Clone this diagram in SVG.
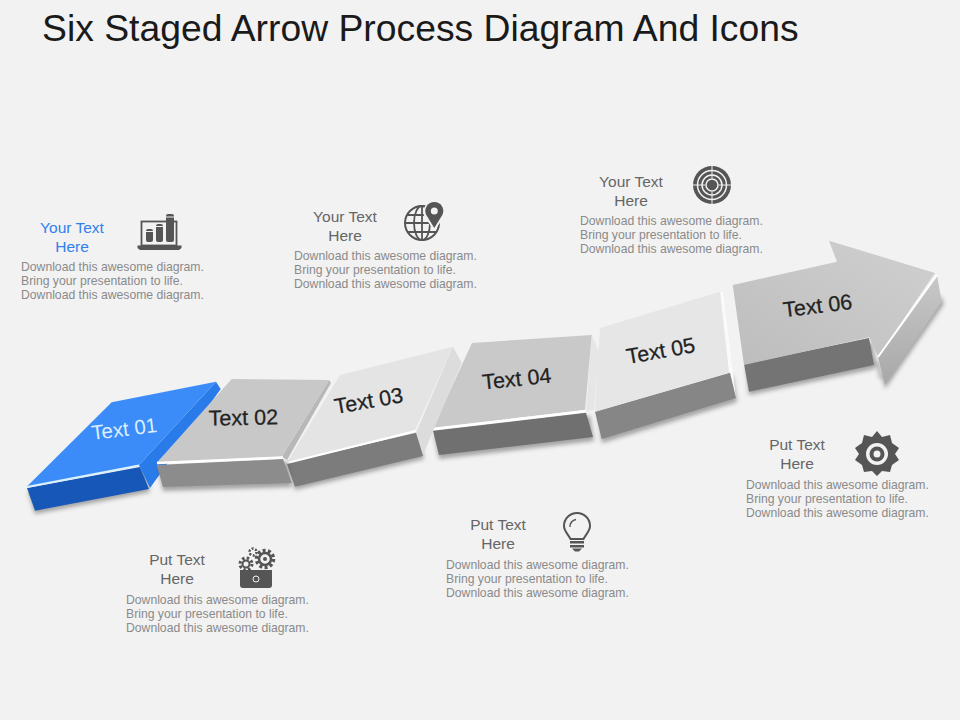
<svg xmlns="http://www.w3.org/2000/svg" width="960" height="720" viewBox="0 0 960 720">
<style>
text{font-family:"Liberation Sans",Arial,sans-serif}
.title{font-size:37.300px;fill:#1a1a1a}
.h{font-size:15.500px;fill:#666;text-anchor:middle}
.hb{fill:#2f80ed}
.b{font-size:12.200px;fill:#8a8a8a}
.t{font-size:21.500px;fill:#222;stroke:#222;stroke-width:.25px;text-anchor:middle}
.ic{fill:#555}
.icl{fill:none;stroke:#555}
.icw{fill:none;stroke:#f2f2f2}
.sh{fill:#555;opacity:.5;filter:url(#blur)}
</style>
<defs>
<filter id="blur" x="-20%" y="-20%" width="140%" height="140%"><feGaussianBlur stdDeviation="2.2"/></filter>
<linearGradient id="g6" x1="0" y1="1" x2="1" y2="0"><stop offset="0" stop-color="#bdbdbd"/><stop offset="1" stop-color="#d0d0d0"/></linearGradient>
<linearGradient id="gs" x1="0" y1="0" x2="0" y2="1"><stop offset="0" stop-color="#c8c8c8"/><stop offset="1" stop-color="#a8a8a8"/></linearGradient>
</defs>
<rect width="960" height="720" fill="#f2f2f2"/>
<text class="title" x="42" y="41">Six Staged Arrow Process Diagram And Icons</text>

<g id="step-06">
<polygon class="sh" points="749,395 874,369 879,360 885,389 944,304 941,296 880,380 872,342 746,368"/>
<polygon points="744,364 869,338 874,365 749,391.700" fill="#747474"/>
<polygon points="937,275 941.700,301.700 885,385 878,357" fill="url(#gs)"/>
<polygon points="732.700,285 837,261.700 829,240.700 935,273 878,356.700 869.300,337.300 744,365" fill="url(#g6)"/>
<line x1="937" y1="275" x2="878" y2="357" stroke="#fff" stroke-width="2"/>
<text class="t" transform="translate(818.500,313) rotate(-7)">Text 06</text>
</g>
<g id="step-05">
<polygon class="sh" points="602,443 737,402 733,376 598,415"/>
<polygon points="720,291.700 723,292 736,398 729,372.700" fill="#fafafa"/>
<polygon points="595,411.700 730,372.700 736,398 601.700,439" fill="#868686"/>
<polygon points="600,328 720,291.700 729,372.700 595,411.700" fill="#e6e6e6"/>
<text class="t" transform="translate(662,358) rotate(-10)">Text 05</text>
</g>
<g id="step-04">
<polygon class="sh" points="439,459 594,441 590,416 434,434"/>
<polygon points="591.700,335 599,352 594,410 586,411" fill="#e6e6e6"/>
<polygon points="433,430.700 586,412.700 593,437 439,455" fill="#707070"/>
<polygon points="472,343 591.700,335 585,410 433,428" fill="#c9c9c9"/>
<line x1="433" y1="429" x2="586" y2="411" stroke="#fff" stroke-width="2.500"/>
<text class="t" transform="translate(517.500,386) rotate(-6)">Text 04</text>
</g>
<g id="step-03">
<polygon class="sh" points="295,490 424,459 419,436 289,466"/>
<polygon points="453,346.700 461.700,363 423,455 416,432.700" fill="#dcdcdc"/>
<polygon points="286.700,463 416,432.700 423,456 295,486.700" fill="#7c7c7c"/>
<polygon points="340,375 453,346.700 415,430 286.700,463" fill="#e4e4e4"/>
<line x1="287" y1="463" x2="416" y2="431" stroke="#fff" stroke-width="2"/>
<text class="t" transform="translate(370,408) rotate(-10)">Text 03</text>
</g>
<g id="step-01">
<polygon class="sh" points="35,514 150,492 144,470 28,492"/>
<polygon points="216,381.700 220.700,389 150,488 139,465" fill="#2a7bea"/>
<polygon points="27,488 140,467 149,489 35,510.700" fill="#1657b8"/>
<polygon points="111.700,402.300 216,381.700 139,465 26.700,486.700" fill="#3b8cf8"/>
<line x1="27" y1="487" x2="139" y2="465.500" stroke="#d8f0ff" stroke-width="2"/>
<text class="t" transform="translate(125,436) rotate(-7)" style="fill:#dceeff;stroke:none;font-size:20.500px">Text 01</text>
</g>
<g id="step-02">
<polygon class="sh" points="163,491 292,487 288,462 158,468"/>
<polygon points="329,380 331,383 287,460 281.700,456.700" fill="#b8b8b8"/>
<polygon points="156.700,465 283,459 291.700,483 163,487" fill="#8c8c8c"/>
<polygon points="231.700,379 329,380 281.700,456.700 156.700,462.700" fill="#c8c8c8"/>
<line x1="157" y1="463" x2="283" y2="457.500" stroke="#fff" stroke-width="2.500"/>
<text class="t" transform="translate(243.500,425) rotate(-1)">Text 02</text>
</g>

<g id="note-1">
<text class="h hb" x="72" y="233">Your Text</text><text class="h hb" x="72" y="252">Here</text>
<text class="b" x="21" y="271">Download this awesome diagram.</text><text class="b" x="21" y="285">Bring your presentation to life.</text><text class="b" x="21" y="299">Download this awesome diagram.</text>
<g>
<rect class="icl" x="141.500" y="221.500" width="35" height="24" stroke-width="1.800"/>
<path class="ic" d="M137.500 245.500H181.500V248L179 250H140L137.500 248Z"/>
<rect class="ic" x="146" y="229" width="7" height="13" rx="2"/><rect class="ic" x="156" y="224" width="7" height="18" rx="2"/><rect class="ic" x="166" y="214" width="8" height="28" rx="2"/>
<path d="M146 231.500H153M156 226.500H163M166 217H174" stroke="#f2f2f2" stroke-width="1"/>
</g>
</g>
<g id="note-2">
<text class="h" x="345" y="222">Your Text</text><text class="h" x="345" y="241">Here</text>
<text class="b" x="294" y="260">Download this awesome diagram.</text><text class="b" x="294" y="274">Bring your presentation to life.</text><text class="b" x="294" y="288">Download this awesome diagram.</text>
<g>
<circle class="icl" cx="422" cy="223" r="17" stroke-width="2"/>
<ellipse class="icl" cx="422" cy="223" rx="8" ry="17" stroke-width="1.800"/>
<path class="icl" d="M422 206V240M407 215H437M405 223H439M407 232H437" stroke-width="1.800"/>
<path d="M434.300 231L424 216A11 11 0 1 1 444.600 216Z" fill="#f2f2f2"/>
<path class="ic" d="M434.300 228L426 214.500A9 9 0 1 1 442.600 214.500Z"/>
<circle cx="434.300" cy="211" r="3.500" fill="#f2f2f2"/>
</g>
</g>
<g id="note-3">
<text class="h" x="631" y="187">Your Text</text><text class="h" x="631" y="206">Here</text>
<text class="b" x="580" y="225">Download this awesome diagram.</text><text class="b" x="580" y="239">Bring your presentation to life.</text><text class="b" x="580" y="253">Download this awesome diagram.</text>
<g>
<circle class="ic" cx="712" cy="185" r="19"/>
<circle class="icw" cx="712" cy="185" r="14.500" stroke-width="1.500"/>
<circle class="icw" cx="712" cy="185" r="10" stroke-width="1.500"/>
<circle class="icw" cx="712" cy="185" r="6" stroke-width="1.500"/>
<path d="M693 185H705M719 185H731M712 166V178M712 192V204" stroke="#f2f2f2" stroke-width="1"/>
</g>
</g>
<g id="note-4">
<text class="h" x="177" y="565">Put Text</text><text class="h" x="177" y="584">Here</text>
<text class="b" x="126" y="604">Download this awesome diagram.</text><text class="b" x="126" y="618">Bring your presentation to life.</text><text class="b" x="126" y="632">Download this awesome diagram.</text>
<g>
<path class="ic" d="M240 570H272V585Q272 588 269 588H243Q240 588 240 585Z"/>
<circle class="icw" cx="256" cy="579" r="3" stroke-width="1"/>
<circle class="icl" cx="265" cy="559" r="8.500" stroke-width="3.500" stroke-dasharray="3 2.340"/>
<circle class="icl" cx="265" cy="559" r="6" stroke-width="2.500"/>
<circle class="ic" cx="265" cy="559" r="2"/>
<circle class="icl" cx="246" cy="564" r="6" stroke-width="3" stroke-dasharray="2.500 2.210"/>
<circle class="icl" cx="246" cy="564" r="3.500" stroke-width="2"/>
<circle class="icl" cx="253" cy="552" r="3.500" stroke-width="2.500" stroke-dasharray="2 1.660"/>
</g>
</g>
<g id="note-5">
<text class="h" x="498" y="530">Put Text</text><text class="h" x="498" y="549">Here</text>
<text class="b" x="446" y="569">Download this awesome diagram.</text><text class="b" x="446" y="583">Bring your presentation to life.</text><text class="b" x="446" y="597">Download this awesome diagram.</text>
<g>
<path class="icl" d="M570.500 539C568 534 564 531 564 526A13 13 0 0 1 590 526C590 531 586 534 583.500 539Z" stroke-width="2"/>
<path class="icl" d="M570 527A7 7 0 0 1 576 519.500" stroke-width="1.500"/>
<rect class="ic" x="570" y="541" width="14" height="2.500"/><rect class="ic" x="570" y="545" width="14" height="2.500"/><path class="ic" d="M572 548.500H582L579 551.500H575Z"/>
</g>
</g>
<g id="note-6">
<text class="h" x="797" y="450">Put Text</text><text class="h" x="797" y="469">Here</text>
<text class="b" x="746" y="489">Download this awesome diagram.</text><text class="b" x="746" y="503">Bring your presentation to life.</text><text class="b" x="746" y="517">Download this awesome diagram.</text>
<g>
<polygon class="ic" points="877,431 882,437 890,435 892,443 899,448 895,454 899,460 892,465 890,472 882,471 877,476 872,471 864,472 862,465 855,460 859,454 855,448 862,443 864,435 872,437"/>
<circle cx="877" cy="454" r="11" fill="#f2f2f2"/>
<circle cx="877" cy="454" r="7.500" class="ic"/>
<circle cx="877" cy="454" r="3.500" fill="#f2f2f2"/>
</g>
</g>
</svg>
